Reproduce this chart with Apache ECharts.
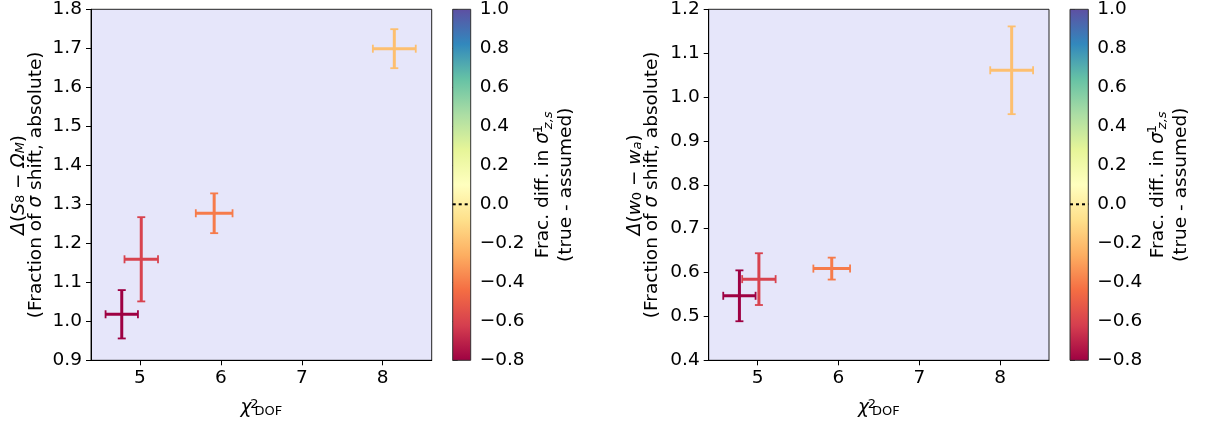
<!DOCTYPE html>
<html><head><meta charset="utf-8">
<script src="https://cdn.jsdelivr.net/npm/echarts@6/dist/echarts.min.js"></script>
<style>html,body{margin:0;padding:0;background:#fff}#c{width:1205px;height:426px}</style>
</head><body><div id="c"></div>
<script>
// ---- data ----
const chi2 = [4.775, 5.016, 5.917, 8.143];
const chi2Err = [0.200, 0.207, 0.227, 0.265];
const fracDiff = [-0.8, -0.6, -0.4, -0.2];
const s8Shift = [1.018, 1.159, 1.277, 1.699];
const s8Err = [0.062, 0.108, 0.051, 0.050];
const wShift = [0.547, 0.585, 0.609, 1.061];
const wErr = [0.058, 0.059, 0.025, 0.100];
const xTicks = [5, 6, 7, 8];
const s8Ticks = [0.9, 1.0, 1.1, 1.2, 1.3, 1.4, 1.5, 1.6, 1.7, 1.8];
const wTicks = [0.4, 0.5, 0.6, 0.7, 0.8, 0.9, 1.0, 1.1, 1.2];
const cbTicks = [-0.8, -0.6, -0.4, -0.2, 0.0, 0.2, 0.4, 0.6, 0.8, 1.0];
const cbRange = [-0.8, 1.0];
const cbRef = [0.0];
const spectral = ['#9e0142','#d53e4f','#f46d43','#fdae61','#fee08b','#ffffbf','#e6f598','#abdda4','#66c2a5','#3288bd','#5e4fa2'];

// ---- helpers ----
function hex2rgb(h){return [parseInt(h.slice(1,3),16),parseInt(h.slice(3,5),16),parseInt(h.slice(5,7),16)];}
function cmap(v){
  let t=(v-cbRange[0])/(cbRange[1]-cbRange[0]); t=Math.max(0,Math.min(1,t));
  const n=spectral.length-1, f=t*n, i=Math.min(n-1,Math.floor(f)), u=f-i;
  const a=hex2rgb(spectral[i]), b=hex2rgb(spectral[i+1]);
  const c=a.map((x,k)=>Math.round(x+(b[k]-x)*u));
  return 'rgb('+c.join(',')+')';
}
const FONT='DejaVu Sans';
const FS=18.5, SS=13;
function errRender(params, api){
  const x=api.value(0), y=api.value(1), xe=api.value(2), ye=api.value(3);
  const col=cmap(api.value(4));
  const l=api.coord([x-xe,y]), r=api.coord([x+xe,y]), t=api.coord([x,y+ye]), b=api.coord([x,y-ye]);
  const cap=4, st={stroke:col,lineWidth:3}, cs={stroke:col,lineWidth:1.8};
  return {type:'group',children:[
    {type:'line',shape:{x1:l[0],y1:l[1],x2:r[0],y2:r[1]},style:st},
    {type:'line',shape:{x1:b[0],y1:b[1],x2:t[0],y2:t[1]},style:st},
    {type:'line',shape:{x1:l[0],y1:l[1]-cap,x2:l[0],y2:l[1]+cap},style:cs},
    {type:'line',shape:{x1:r[0],y1:r[1]-cap,x2:r[0],y2:r[1]+cap},style:cs},
    {type:'line',shape:{x1:t[0]-cap,y1:t[1],x2:t[0]+cap,y2:t[1]},style:cs},
    {type:'line',shape:{x1:b[0]-cap,y1:b[1],x2:b[0]+cap,y2:b[1]},style:cs}
  ]};
}
function cbRender(params, api){
  const p0=api.coord([0,api.value(0)]), p1=api.coord([1,api.value(1)]);
  const z0=api.coord([0,cbRef[0]]), z1=api.coord([1,cbRef[0]]);
  const stops=spectral.map((c,i)=>({offset:i/(spectral.length-1),color:c}));
  return {type:'group',children:[
    {type:'rect',shape:{x:p0[0],y:p1[1],width:p1[0]-p0[0],height:p0[1]-p1[1]},
     style:{fill:new echarts.graphic.LinearGradient(0,1,0,0,stops),stroke:'#333',lineWidth:1}},
    {type:'line',shape:{x1:z0[0],y1:z0[1],x2:z1[0],y2:z1[1]},style:{stroke:'#000',lineWidth:2,lineDash:[3,3]}}
  ]};
}
const fmt1=v=>(v<0?'\u2212':'')+Math.abs(v).toFixed(1);
const baseTxt={fontFamily:FONT,fontSize:FS,color:'#000'};
function mainX(gi){
  return {gridIndex:gi,type:'value',min:4.395,max:8.605,
    axisLine:{show:true,lineStyle:{color:'#000',width:1}},splitLine:{show:false},
    axisTick:{show:true,customValues:xTicks,length:5,lineStyle:{color:'#000'}},
    axisLabel:Object.assign({customValues:xTicks,margin:8},baseTxt),
    name:'{i|\u03c7}{sp| }{sup|2}{sub|DOF}',nameLocation:'middle',nameGap:38,nameMoveOverlap:false,
    nameTextStyle:Object.assign({lineHeight:20,rich:{
      i:{fontFamily:FONT,fontSize:FS,fontStyle:'italic',color:'#000'},
      sp:{fontFamily:FONT,fontSize:SS,width:3},
      sup:{fontFamily:FONT,fontSize:SS,color:'#000',width:0,verticalAlign:'top',lineHeight:8},
      sub:{fontFamily:FONT,fontSize:SS,color:'#000',verticalAlign:'bottom',lineHeight:12}}},baseTxt)};
}
function mainY(gi,mn,mx,ticks,name,gap){
  return {gridIndex:gi,type:'value',min:mn,max:mx,
    axisLine:{show:true,lineStyle:{color:'#000',width:1}},splitLine:{show:false},
    axisTick:{show:true,customValues:ticks,length:5,lineStyle:{color:'#000'}},
    axisLabel:Object.assign({customValues:ticks,margin:9,formatter:fmt1},baseTxt),
    name:name,nameLocation:'middle',nameGap:gap,nameRotate:90,nameMoveOverlap:false,
    nameTextStyle:Object.assign({lineHeight:17,rich:{
      i:{fontFamily:FONT,fontSize:FS,fontStyle:'italic',color:'#000',lineHeight:17},
      sub:{fontFamily:FONT,fontSize:SS,color:'#000',verticalAlign:'bottom',lineHeight:10},
      subi:{fontFamily:FONT,fontSize:SS,fontStyle:'italic',color:'#000',verticalAlign:'bottom',lineHeight:10}}},baseTxt)};
}
function cbY(gi,gap){
  return {gridIndex:gi,type:'value',position:'right',min:cbRange[0],max:cbRange[1],
    axisLine:{show:false},splitLine:{show:false},
    axisTick:{show:true,customValues:cbTicks,length:5,lineStyle:{color:'#000'}},
    axisLabel:Object.assign({customValues:cbTicks,margin:9,formatter:fmt1},baseTxt),
    name:'Frac. diff. in {i|\u03c3}{sp| }{sup|1}{subi|z,s}\n(true - assumed)',
    nameLocation:'middle',nameGap:gap,nameRotate:90,nameMoveOverlap:false,
    nameTextStyle:Object.assign({lineHeight:23,rich:{
      i:{fontFamily:FONT,fontSize:FS,fontStyle:'italic',color:'#000'},
      sp:{fontFamily:FONT,fontSize:SS,width:3},
      sup:{fontFamily:FONT,fontSize:SS,color:'#000',width:0,verticalAlign:'top',lineHeight:10},
      subi:{fontFamily:FONT,fontSize:SS,fontStyle:'italic',color:'#000',verticalAlign:'bottom',lineHeight:14}}},baseTxt)};
}
const cbX=gi=>({gridIndex:gi,type:'value',min:0,max:1,show:false});
const gridBase={show:true,backgroundColor:'#e6e6fa',borderColor:'#222',borderWidth:1,containLabel:false,outerBoundsMode:'none'};
const option={
  animation:false,
  grid:[
    Object.assign({left:91,top:9.3,width:340.7,height:351},gridBase),
    Object.assign({left:708.7,top:9.3,width:340.3,height:351},gridBase),
    {left:452.7,top:9.3,width:18,height:351,show:false,containLabel:false,outerBoundsMode:'none'},
    {left:1070,top:9.3,width:18.3,height:351,show:false,containLabel:false,outerBoundsMode:'none'}
  ],
  xAxis:[mainX(0),mainX(1),cbX(2),cbX(3)],
  yAxis:[
    mainY(0,0.9,1.8,s8Ticks,'{i|\u0394}({i|S}{sub|8} \u2212 {i|\u03a9}{subi|M})\n(Fraction of {i|\u03c3} shift, absolute)',46.5),
    mainY(1,0.4,1.2,wTicks,'{i|\u0394}({i|w}{sub|0} \u2212 {i|w}{subi|a})\n(Fraction of {i|\u03c3} shift, absolute)',48),
    cbY(2,61),cbY(3,58)
  ],
  series:[
    {type:'custom',xAxisIndex:0,yAxisIndex:0,renderItem:errRender,
     data:chi2.map((x,i)=>[x,s8Shift[i],chi2Err[i],s8Err[i],fracDiff[i]])},
    {type:'custom',xAxisIndex:1,yAxisIndex:1,renderItem:errRender,
     data:chi2.map((x,i)=>[x,wShift[i],chi2Err[i],wErr[i],fracDiff[i]])},
    {type:'custom',xAxisIndex:2,yAxisIndex:2,renderItem:cbRender,data:[cbRange]},
    {type:'custom',xAxisIndex:3,yAxisIndex:3,renderItem:cbRender,data:[cbRange]}
  ]
};
const chart=echarts.init(document.getElementById('c'),null,{renderer:'canvas'});
chart.setOption(option);
</script></body></html>
